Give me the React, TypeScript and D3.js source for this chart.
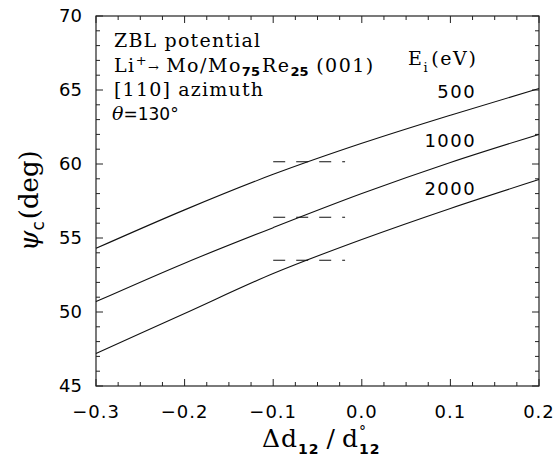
import React, { useEffect, useRef } from 'react'
import * as d3 from 'd3'

// delta d12 / d12 (x) and psi_c in degrees for each beam energy
const xValues = [-0.3, -0.2, -0.1, 0.0, 0.1, 0.2]
const psi500 = [54.3, 56.9, 59.3, 61.4, 63.3, 65.1]
const psi1000 = [50.7, 53.3, 55.7, 58.0, 60.1, 62.0]
const psi2000 = [47.2, 49.9, 52.6, 54.9, 57.0, 58.95]
const energies = ['500', '1000', '2000']
// where the energy labels sit (data coords)
const labelX = 0.128
const labelY = [64.45, 61.15, 57.9]
// dashed marks (experimental values)
const dashLevels = [60.15, 56.4, 53.5]
const dashRange = [-0.1, -0.02]

const xTicks = [-0.3, -0.2, -0.1, 0.0, 0.1, 0.2]
const yTicks = [45, 50, 55, 60, 65, 70]

const W = 556
const H = 460
const margin = { top: 16, right: 17, bottom: 74, left: 96 }

const serif = '"DejaVu Serif", serif'
const sans = '"DejaVu Sans", sans-serif'

export default function App() {
  const ref = useRef<SVGSVGElement | null>(null)

  useEffect(() => {
    const svg = d3.select(ref.current)
    svg.selectAll('*').remove()

    const x = d3.scaleLinear().domain([-0.3, 0.2]).range([margin.left, W - margin.right])
    const y = d3.scaleLinear().domain([45, 70]).range([H - margin.bottom, margin.top])

    const g = svg.append('g')
    const [x0, x1] = x.range()
    const [y0, y1] = y.range()

    // frame
    g.append('rect')
      .attr('x', x0).attr('y', y1)
      .attr('width', x1 - x0).attr('height', y0 - y1)
      .attr('fill', 'none').attr('stroke', '#222').attr('stroke-width', 1.2)

    // x ticks, bottom and top, pointing inward
    const xMinor = d3.range(-0.3, 0.2001, 0.025)
    xMinor.forEach((v) => {
      const major = xTicks.some((t) => Math.abs(t - v) < 1e-6)
      const len = major ? 7 : 4
      g.append('line').attr('x1', x(v)).attr('x2', x(v)).attr('y1', y0).attr('y2', y0 - len)
        .attr('stroke', '#222')
      g.append('line').attr('x1', x(v)).attr('x2', x(v)).attr('y1', y1).attr('y2', y1 + len)
        .attr('stroke', '#222')
    })
    // y ticks, left and right
    d3.range(45, 70.01, 1).forEach((v) => {
      const major = v % 5 === 0
      const len = major ? 7 : 4
      g.append('line').attr('x1', x0).attr('x2', x0 + len).attr('y1', y(v)).attr('y2', y(v))
        .attr('stroke', '#222')
      g.append('line').attr('x1', x1).attr('x2', x1 - len).attr('y1', y(v)).attr('y2', y(v))
        .attr('stroke', '#222')
    })

    // tick labels
    g.selectAll('.xlab').data(xTicks).enter().append('text')
      .attr('class', 'xlab')
      .attr('x', (d) => x(d)).attr('y', y0 + 32)
      .attr('text-anchor', 'middle')
      .style('font-family', sans).style('font-size', '18px').style('letter-spacing', '1px')
      .text((d) => (d < 0 ? '\u2212' : '') + Math.abs(d).toFixed(1))

    g.selectAll('.ylab').data(yTicks).enter().append('text')
      .attr('class', 'ylab')
      .attr('x', x0 - 14).attr('y', (d) => y(d) + 6)
      .attr('text-anchor', 'end')
      .style('font-family', sans).style('font-size', '18px')
      .text((d) => d)

    // curves
    const line = d3.line<number>()
      .x((_, i) => x(xValues[i]))
      .y((d) => y(d))
      .curve(d3.curveMonotoneX)
    ;[psi500, psi1000, psi2000].forEach((s) => {
      g.append('path').attr('d', line(s)).attr('fill', 'none')
        .attr('stroke', '#111').attr('stroke-width', 1.1)
    })

    // dashed levels
    dashLevels.forEach((v) => {
      g.append('line')
        .attr('x1', x(dashRange[0])).attr('x2', x(dashRange[1]) + 1)
        .attr('y1', y(v)).attr('y2', y(v))
        .attr('stroke', '#111').attr('stroke-width', 1.1)
        .attr('stroke-dasharray', '12,11')
    })

    // energy labels
    energies.forEach((e, i) => {
      g.append('text')
        .attr('x', x(labelX) + 1).attr('y', y(labelY[i]))
        .attr('text-anchor', 'end')
        .style('font-family', sans).style('font-size', '18px').style('letter-spacing', '1.5px')
        .text(e)
    })

    // E_i (eV)
    const ei = g.append('text')
      .attr('x', 408).attr('y', 65)
      .style('font-family', serif).style('font-size', '19px').style('letter-spacing', '1.6px')
    ei.append('tspan').text('E')
    ei.append('tspan').attr('dy', 7).style('font-size', '13px').text('i')
    ei.append('tspan').attr('dy', -7).attr('dx', 2).text('(eV)')

    // annotation block
    const ann = g.append('g').style('font-family', serif).style('font-size', '19px')
      .style('letter-spacing', '1.2px')
    ann.append('text').attr('x', 114).attr('y', 47).text('ZBL potential')
    const l2 = ann.append('text').attr('x', 114).attr('y', 72).style('letter-spacing', '1.5px')
    l2.append('tspan').text('Li')
    l2.append('tspan').attr('dy', -7).style('font-size', '13px').text('+')
    l2.append('tspan').attr('dy', 7).style('font-size', '13px').text('\u2192 ')
    l2.append('tspan').text('Mo/Mo')
    l2.append('tspan').attr('dy', 4).style('font-family', sans).style('font-size', '13px')
      .style('font-weight', 'bold').style('letter-spacing', '0px').text('75')
    l2.append('tspan').attr('dy', -4).attr('dx', 2).text('Re')
    l2.append('tspan').attr('dy', 4).style('font-family', sans).style('font-size', '13px')
      .style('font-weight', 'bold').style('letter-spacing', '0px').text('25')
    l2.append('tspan').attr('dy', -4).text(' (001)')
    ann.append('text').attr('x', 114).attr('y', 96).text('[110] azimuth')
    const l4 = ann.append('text').attr('x', 112).attr('y', 120)
      .style('letter-spacing', '0px')
    l4.append('tspan').style('font-style', 'italic').text('\u03b8')
    l4.append('tspan').style('font-family', sans).style('font-size', '17px').text('=130\u00b0')

    // axis titles
    const xt = g.append('text')
      .attr('x', 262).attr('y', 447)
      .style('font-family', serif).style('font-size', '25px').style('letter-spacing', '1px')
    xt.append('tspan').text('\u0394d')
    xt.append('tspan').attr('dy', 7).style('font-family', sans).style('font-size', '14px')
      .style('font-weight', 'bold').text('12')
    xt.append('tspan').attr('dy', -7).attr('dx', 7).text('/')
    xt.append('tspan').attr('dx', 6).text('d')
    xt.append('tspan').attr('dy', -11).style('font-size', '14px').text('\u00b0')
    xt.append('tspan').attr('dy', 18).attr('dx', -8).style('font-family', sans).style('font-size', '14px')
      .style('font-weight', 'bold').text('12')

    const yt = g.append('text')
      .attr('transform', 'translate(38, 251) rotate(-90)')
      .attr('text-anchor', 'start')
      .style('font-family', serif).style('font-size', '26px')
    yt.append('tspan').style('font-style', 'italic').text('\u03c8')
    yt.append('tspan').attr('dy', 6).style('font-family', sans).style('font-size', '17px').text('c')
    yt.append('tspan').attr('dy', -6).attr('dx', 2).text('(deg)')
  }, [])

  return (
    <svg
      ref={ref}
      width={W}
      height={H}
      style={{ position: 'absolute', left: 0, top: 0, background: '#fff' }}
    />
  )
}
